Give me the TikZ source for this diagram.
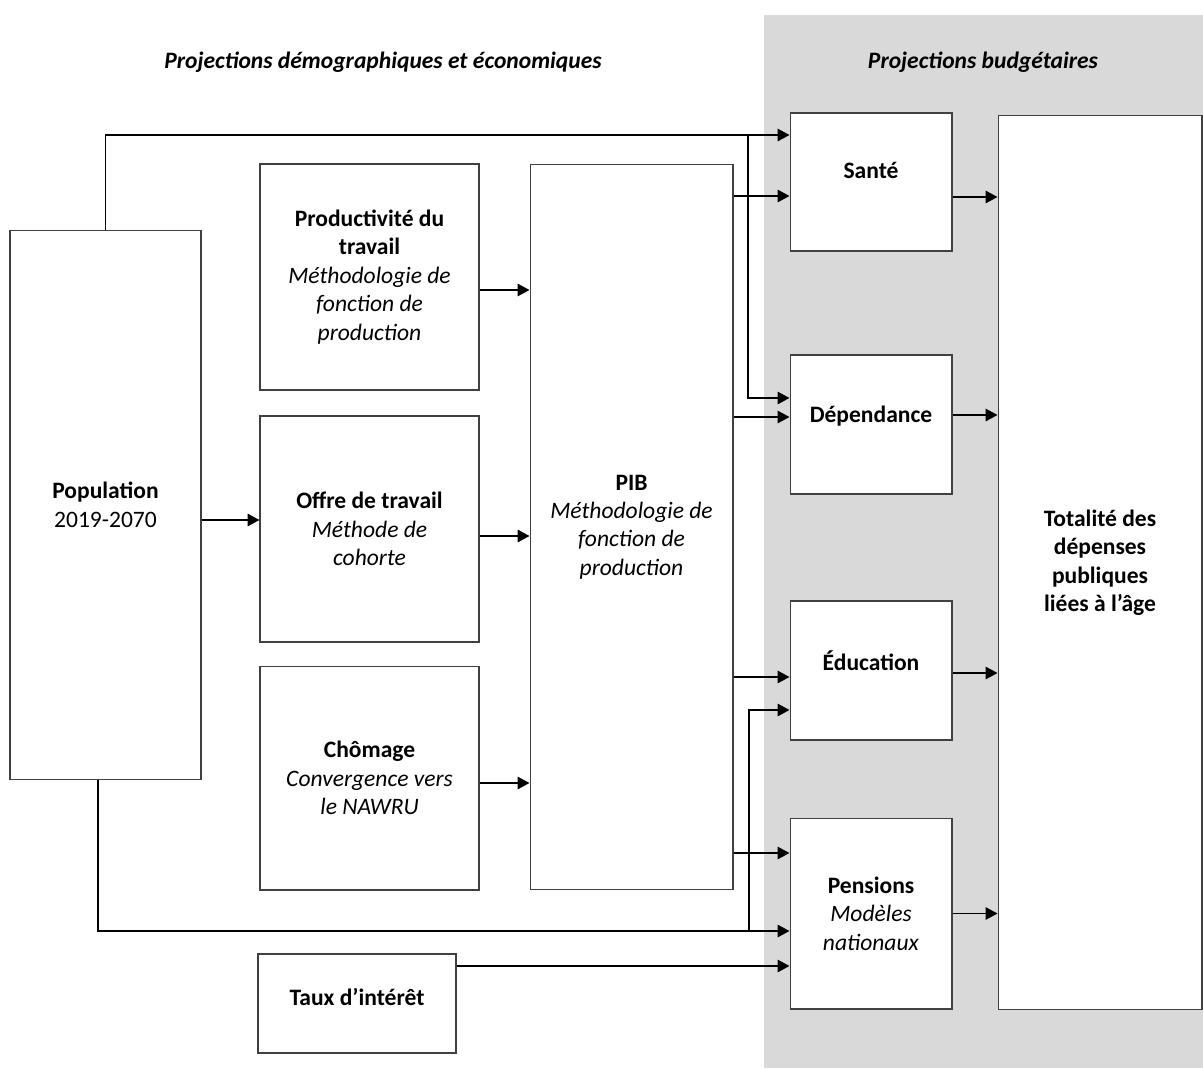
\documentclass[tikz,border=0pt]{standalone}
\usepackage{fontspec}
\setmainfont{Carlito}
\usetikzlibrary{arrows.meta,calc}
\definecolor{bandgray}{RGB}{217,217,217}

\begin{document}
\begin{tikzpicture}[x=0.02cm,y=-0.02cm,
  font=\fontsize{13.4}{16.2}\selectfont,
  box/.style={draw=black!75,line width=0.6pt,fill=white,align=center,inner sep=0pt},
  lift/.style={text depth=#1},
  arr/.style={-{Triangle[length=0.24cm,width=0.25cm]},line width=1pt},
  hdr/.style={font=\fontsize{13.4}{16.2}\selectfont\bfseries\itshape}]
\useasboundingbox (0,0) rectangle (1203,1068);
\fill[bandgray] (764,15) rectangle (1203,1068);

\node[hdr] (hdrdemo) at (383,62) {Projections démographiques et économiques};
\node[hdr] (hdrbudg) at (983,62) {Projections budgétaires};

% left column
\node[box,minimum width=3.82cm,minimum height=11cm] (pop) at (105.5,505)
  {\textbf{Population}\\2019-2070};
\node[box,minimum width=4.38cm,minimum height=4.52cm] (prod) at (369.5,277)
  {\textbf{Productivité du}\\\textbf{travail}\\\textit{Méthodologie de}\\\textit{fonction de}\\\textit{production}};
\node[box,minimum width=4.38cm,minimum height=4.52cm] (offre) at (369.5,529)
  {\textbf{Offre de travail}\\\textit{Méthode de}\\\textit{cohorte}};
\node[box,minimum width=4.38cm,minimum height=4.48cm] (chom) at (369.5,778)
  {\textbf{Chômage}\\\textit{Convergence vers}\\\textit{le NAWRU}};
\node[box,minimum width=3.96cm,minimum height=1.98cm,lift=0.28cm] (taux) at (357,1003.5)
  {\textbf{Taux d’intérêt}};
\node[box,minimum width=4.06cm,minimum height=14.52cm] (pib) at (631.5,527)
  {\textbf{PIB}\\\textit{Méthodologie de}\\\textit{fonction de}\\\textit{production}};

% budget column
\node[box,minimum width=3.24cm,minimum height=2.76cm,lift=0.48cm] (sante) at (871,182)
  {\textbf{Santé}};
\node[box,minimum width=3.24cm,minimum height=2.78cm,lift=0.4cm] (dep) at (871,424.5)
  {\textbf{Dépendance}};
\node[box,minimum width=3.24cm,minimum height=2.78cm,lift=0.4cm] (educ) at (871,670.5)
  {\textbf{Éducation}};
\node[box,minimum width=3.24cm,minimum height=3.82cm] (pens) at (871,913.5)
  {\textbf{Pensions}\\\textit{Modèles}\\\textit{nationaux}};
\node[box,minimum width=4.08cm,minimum height=17.9cm] (total) at (1100,562.5)
  {\textbf{Totalité des}\\\textbf{dépenses}\\\textbf{publiques}\\\textbf{liées à l’âge}};

% population links
\coordinate (s0) at ([yshift=0.94cm]sante.west);
\coordinate (j1) at (748,135);
\coordinate (d0) at ([yshift=0.53cm]dep.west);
\draw[arr] (pop.north) |- (s0);
\draw[arr] (j1) |- (d0);
\coordinate (o0) at ([yshift=0.18cm]offre.west);
\draw[arr] (pop.east |- o0) -- (o0);
\coordinate (p0) at ([yshift=-0.35cm]pens.west);
\coordinate (j2) at (749,931);
\coordinate (e0) at ([yshift=-0.79cm]educ.west);
\draw[arr] ([xshift=-0.15cm]pop.south) |- (p0);
\draw[arr] (j2) |- (e0);

% into PIB
\coordinate (q1) at ([yshift=-0.26cm]prod.east);
\coordinate (q2) at ([yshift=-0.14cm]offre.east);
\coordinate (q3) at ([yshift=-0.1cm]chom.east);
\draw[arr] (q1) -- (q1 -| pib.west);
\draw[arr] (q2) -- (q2 -| pib.west);
\draw[arr] (q3) -- (q3 -| pib.west);

% out of PIB
\coordinate (s1) at ([yshift=-0.28cm]sante.west);
\coordinate (d1) at ([yshift=0.15cm]dep.west);
\coordinate (e1) at ([yshift=-0.13cm]educ.west);
\coordinate (p1) at ([yshift=1.21cm]pens.west);
\draw[arr] (pib.east |- s1) -- (s1);
\draw[arr] (pib.east |- d1) -- (d1);
\draw[arr] (pib.east |- e1) -- (e1);
\draw[arr] (pib.east |- p1) -- (p1);

% interest rate
\coordinate (p2) at ([yshift=-1.05cm]pens.west);
\draw[arr] (taux.east |- p2) -- (p2);

% into the total
\coordinate (t1) at ([yshift=-0.3cm]sante.east);
\coordinate (t2) at ([yshift=0.19cm]dep.east);
\coordinate (t3) at ([yshift=-0.05cm]educ.east);
\draw[arr] (t1) -- (t1 -| total.west);
\draw[arr] (t2) -- (t2 -| total.west);
\draw[arr] (t3) -- (t3 -| total.west);
\draw[arr] (pens.east) -- (pens.east -| total.west);
\end{tikzpicture}
\end{document}
